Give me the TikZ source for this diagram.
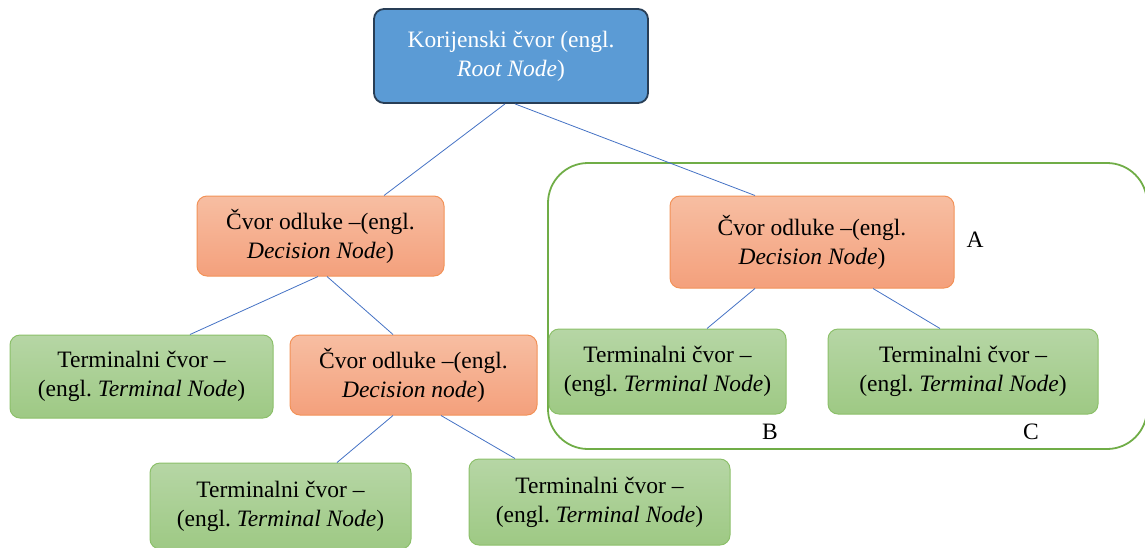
\documentclass[tikz,border=0pt]{standalone}
\usepackage{fontspec}
\setmainfont{Liberation Serif}
\frenchspacing
\begin{document}
\begin{tikzpicture}[x=1pt,y=-1pt,
  base/.style={rounded corners=10pt, align=center, inner sep=0pt, line width=1pt,
    font=\fontsize{23.5}{29}\selectfont},
  rootbox/.style={base, fill={rgb,255:red,91;green,155;blue,213}, draw={rgb,255:red,40;green,62;blue,86}, line width=1.8pt, text=white},
  decbox/.style={base, top color={rgb,255:red,247;green,190;blue,162}, bottom color={rgb,255:red,244;green,160;blue,124}, draw={rgb,255:red,242;green,146;blue,88}},
  termbox/.style={base, top color={rgb,255:red,182;green,214;blue,165}, bottom color={rgb,255:red,158;green,201;blue,132}, draw={rgb,255:red,140;green,192;blue,106}},
  conn/.style={draw={rgb,255:red,68;green,114;blue,196}, line width=0.8pt},
  lab/.style={font=\fontsize{23.5}{28}\selectfont, inner sep=0pt}
]
\useasboundingbox (0,0) rectangle (1145,547);
\clip (0,0) rectangle (1145,547);

% enclosure
\draw[draw={rgb,255:red,112;green,173;blue,71}, line width=1.8pt, rounded corners=40pt] (548,163) rectangle (1147,449);

\node[rootbox, minimum width=274pt, minimum height=94pt] (root) at (511,56) {Korijenski čvor (engl.\\\textit{Root Node})};
\node[decbox, minimum width=247pt, minimum height=80pt] (decL) at (320.5,236) {Čvor odluke –(engl.\\\textit{Decision Node})};
\node[decbox, minimum width=284pt, minimum height=92pt] (decR) at (812,242) {Čvor odluke –(engl.\\\textit{Decision Node})};
\node[termbox, minimum width=263pt, minimum height=83pt] (t1) at (141.5,376.5) {Terminalni čvor –\\(engl. \textit{Terminal Node})};
\node[decbox, minimum width=247pt, minimum height=80pt] (decM) at (413.5,375) {Čvor odluke –(engl.\\\textit{Decision node})};
\node[termbox, minimum width=237pt, minimum height=85pt] (tB) at (667.5,371.5) {Terminalni čvor –\\(engl. \textit{Terminal Node})};
\node[termbox, minimum width=270pt, minimum height=85pt] (tC) at (963,371.5) {Terminalni čvor –\\(engl. \textit{Terminal Node})};
\node[termbox, minimum width=261pt, minimum height=86pt] (t3) at (280.5,506) {Terminalni čvor –\\(engl. \textit{Terminal Node})};
\node[termbox, minimum width=261pt, minimum height=86pt] (t4) at (599.5,502) {Terminalni čvor –\\(engl. \textit{Terminal Node})};

\node[lab] (lA) at (975,240) {A};
\node[lab] (lB) at (770,432) {B};
\node[lab] (lC) at (1031,432) {C};

\draw[conn] ([xshift=-6pt]root.south) -- ([xshift=63.5pt]decL.north);
\draw[conn] ([xshift=4pt]root.south) -- ([xshift=-57pt]decR.north);
\draw[conn] ([xshift=-2.5pt]decL.south) -- ([xshift=48.5pt]t1.north);
\draw[conn] ([xshift=6.5pt]decL.south) -- ([xshift=-20.5pt]decM.north);
\draw[conn] ([xshift=-57pt]decR.south) -- ([xshift=39.5pt]tB.north);
\draw[conn] ([xshift=61pt]decR.south) -- ([xshift=-23pt]tC.north);
\draw[conn] ([xshift=-20.5pt]decM.south) -- ([xshift=56.5pt]t3.north);
\draw[conn] ([xshift=27.5pt]decM.south) -- ([xshift=-84.5pt]t4.north);
\end{tikzpicture}
\end{document}
